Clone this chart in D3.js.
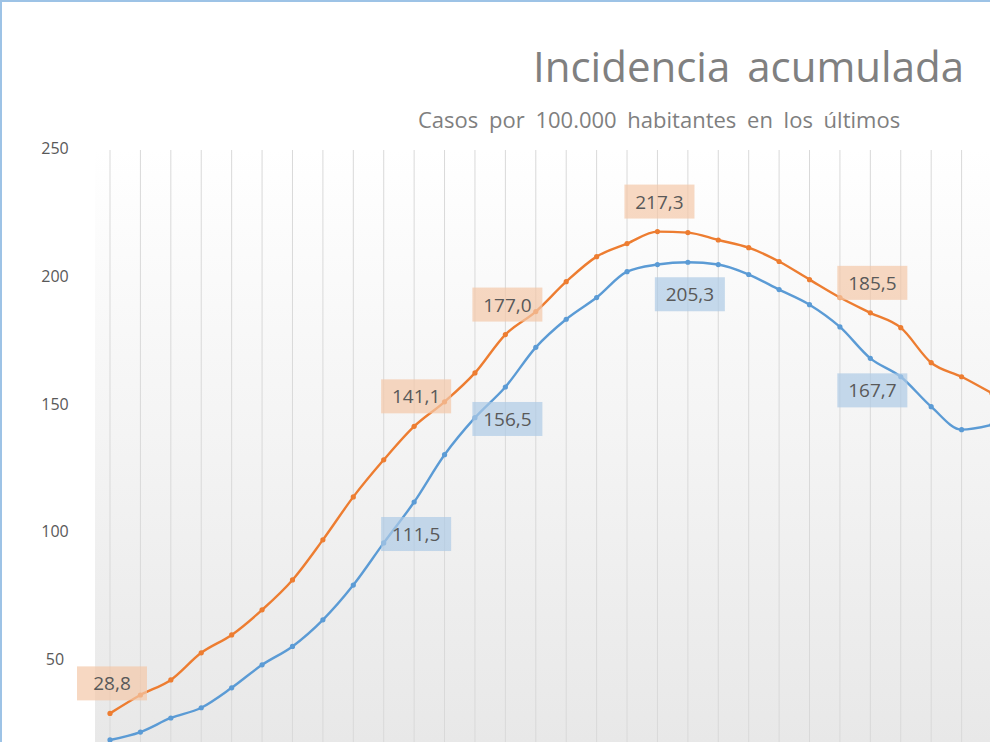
<!DOCTYPE html>
<html><head><meta charset="utf-8">
<script src="https://cdn.jsdelivr.net/npm/d3@7"></script>
<style>body{margin:0;background:#fff;overflow:hidden}svg{display:block}</style>
</head><body><div id="chart"></div>
<script>
const width = 990, height = 742;
const yTicks = [50, 100, 150, 200, 250];
const orange = [28.8, 36.0, 41.9, 52.5, 59.5, 69.3, 81.0, 96.7, 113.5, 128.0, 141.1, 150.7, 162.0, 177.0, 186.0, 197.7, 207.5, 212.6, 217.3, 216.9, 214.0, 211.0, 205.6, 198.5, 191.5, 185.5, 179.7, 166.0, 160.5, 154.0];
const blue = [18.4, 21.5, 27.0, 31.0, 38.8, 47.8, 55.0, 65.4, 79.0, 95.5, 111.5, 130.0, 144.5, 156.5, 172.0, 183.0, 191.5, 201.6, 204.4, 205.3, 204.4, 200.5, 194.6, 188.7, 180.0, 167.7, 160.5, 148.8, 139.8, 141.7];
// [series, index]: orange labels sit above the point, blue ones below
const labels = [["o", 0], ["o", 10], ["o", 13], ["o", 18], ["o", 25],
  ["b", 10], ["b", 13], ["b", 19], ["b", 25]];

const x = d3.scaleLinear().domain([0, 29]).range([110, 992]);
const y = d3.scaleLinear().domain([0, 250]).range([787, 148]);

const svg = d3.select("#chart").append("svg").attr("width", width).attr("height", height);
const defs = svg.append("defs");
const g = defs.append("linearGradient").attr("id", "bg").attr("x1", 0).attr("x2", 0).attr("y1", 0).attr("y2", 1);
g.append("stop").attr("offset", "0%").attr("stop-color", "#ffffff");
g.append("stop").attr("offset", "100%").attr("stop-color", "#e8e8e8");

svg.append("rect").attr("x", 0).attr("y", 0).attr("width", width).attr("height", height).attr("fill", "#fff");
svg.append("rect").attr("x", 95).attr("y", 150).attr("width", width - 95).attr("height", height - 150).attr("fill", "url(#bg)");
svg.append("rect").attr("x", 1).attr("y", 1).attr("width", width + 5).attr("height", height + 5)
  .attr("fill", "none").attr("stroke", "#9dc3e6").attr("stroke-width", 2);

svg.append("g").selectAll("line").data(d3.range(orange.length)).join("line")
  .attr("x1", d => x(d)).attr("x2", d => x(d)).attr("y1", 150).attr("y2", height)
  .attr("stroke", "#d9d9d9").attr("stroke-width", 1);

svg.append("g").selectAll("text").data(yTicks).join("text")
  .attr("x", 55).attr("y", d => y(d) + 6).attr("text-anchor", "middle")
  .attr("font-family", "Open Sans, sans-serif").attr("font-size", 16).attr("fill", "#595959")
  .text(d => d);

svg.append("text").attr("x", 533).attr("y", 82).attr("font-family", "Open Sans, sans-serif")
  .attr("font-size", 42).attr("fill", "#808080").attr("word-spacing", 6).text("Incidencia acumulada");
svg.append("text").attr("x", 418).attr("y", 128).attr("font-family", "Open Sans, sans-serif")
  .attr("font-size", 22).attr("fill", "#7f7f7f").attr("word-spacing", 5).text("Casos por 100.000 habitantes en los últimos");

const line = d3.line().x((d, i) => x(i)).y(d => y(d)).curve(d3.curveMonotoneX);
[[orange, "#ed7d31"], [blue, "#5b9bd5"]].forEach(([data, col]) => {
  svg.append("path").datum(data).attr("d", line).attr("fill", "none").attr("stroke", col).attr("stroke-width", 2.4);
  svg.append("g").selectAll("circle").data(data).join("circle")
    .attr("cx", (d, i) => x(i)).attr("cy", d => y(d)).attr("r", 2.6).attr("fill", col);
});

const fmt = v => v.toFixed(1).replace(".", ",");
labels.forEach(([s, i]) => {
  const v = s === "o" ? orange[i] : blue[i];
  const cx = x(i) + 2, cy = y(v) + (s === "o" ? -30 : 32);
  const w = 70, h = 34;
  svg.append("rect").attr("x", cx - w / 2).attr("y", cy - h / 2).attr("width", w).attr("height", h)
    .attr("fill", s === "o" ? "#f4c7a8" : "#aecbe6").attr("opacity", 0.7);
  svg.append("text").attr("x", cx).attr("y", cy + 7).attr("text-anchor", "middle")
    .attr("font-family", "Open Sans, sans-serif").attr("font-size", 19).attr("fill", "#595959").text(fmt(v));
});
</script></body></html>
